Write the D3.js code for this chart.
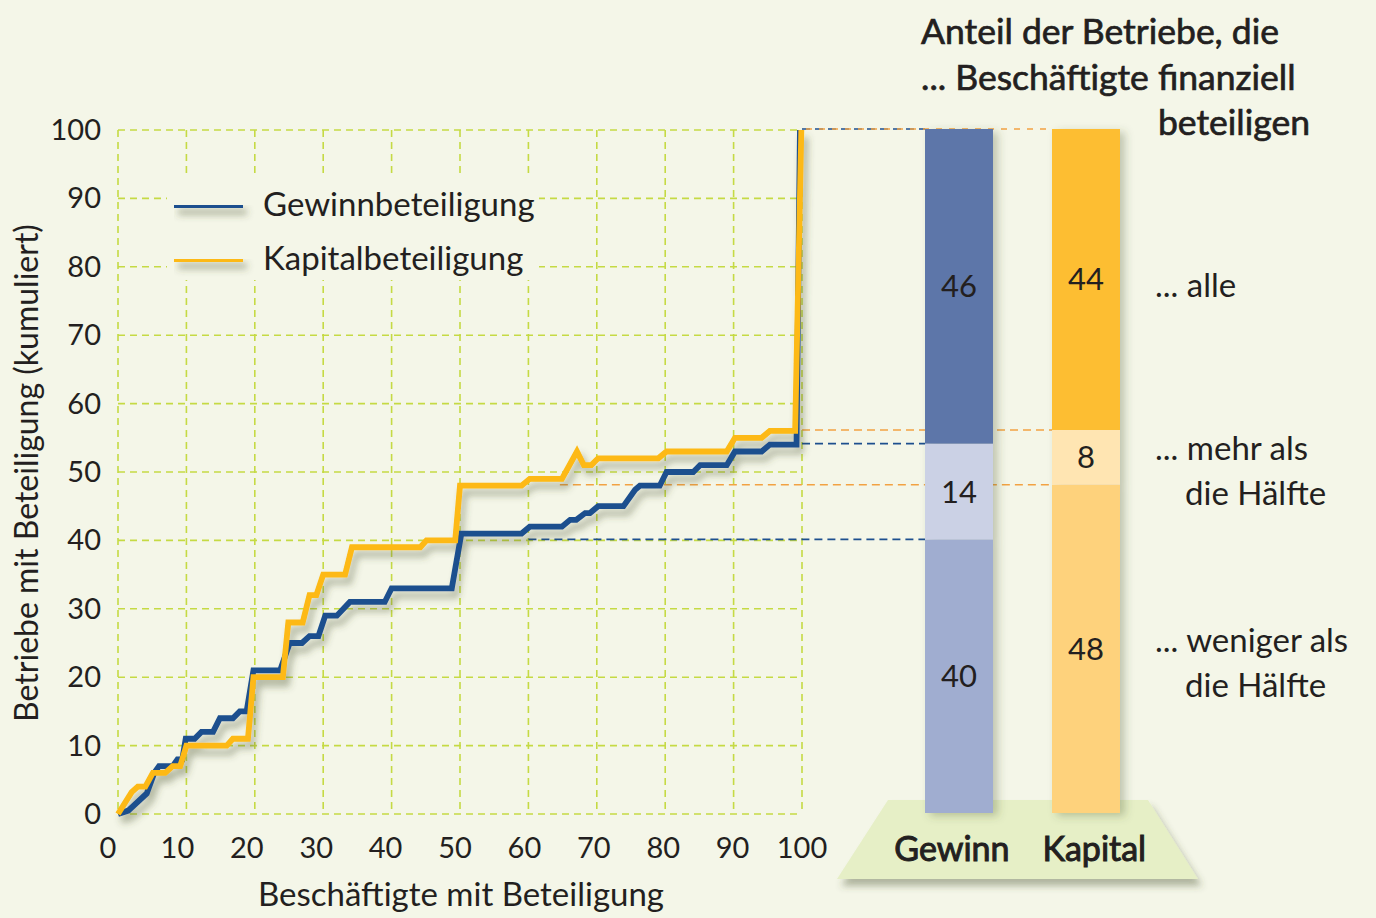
<!DOCTYPE html>
<html>
<head>
<meta charset="utf-8">
<script src="https://cdn.jsdelivr.net/npm/d3@7"></script>
<style>
  body { margin: 0; background: #f4f6e8; }
  svg { display: block; font-family: Lato, "Open Sans", sans-serif; }
</style>
</head>
<body>
<script>
// Werte
var gewinnX = [0, 1.5, 4.2, 5.3, 6, 8, 8.7, 9.4, 9.9, 11.2, 12.2, 13.9, 14.9, 16.8, 17.8, 18.8, 19.8, 23.7, 25.1, 26.9, 28, 29.3, 30.3, 32, 33.9, 39, 40, 48.8, 50.2, 59, 60.2, 64.9, 66.1, 67, 68.3, 69, 70.2, 73.9, 75.6, 76.3, 79.2, 80.2, 84.1, 85.1, 89, 90.2, 94.1, 95.3, 99.2, 99.7];
var gewinnY = [0, 0.5, 3, 6, 7, 7, 8, 8, 11, 11, 12, 12, 14, 14, 15, 15, 21, 21, 25, 25, 26, 26, 29, 29, 31, 31, 33, 33, 41, 41, 42, 42, 43, 43, 44, 44, 45, 45, 47.4, 48, 48, 50, 50, 51, 51, 53, 53, 54, 54, 100];

var kapitalX = [0, 2, 2.9, 4, 5.1, 6.9, 8, 9.1, 10, 15.9, 16.8, 19, 19.8, 24.1, 24.9, 27, 28, 29, 30, 33.2, 34.2, 44.2, 45.1, 49.3, 50, 59, 60.2, 64.9, 67.1, 68.1, 69.2, 70.2, 79, 80.2, 89, 90.2, 94.1, 95.3, 99, 99.9];
var kapitalY = [0, 3.2, 4, 4, 6, 6, 7, 7, 10, 10, 11, 11, 20, 20, 28, 28, 32, 32, 35, 35, 39, 39, 40, 40, 48, 48, 49, 49, 53, 51, 51, 52, 52, 53, 53, 55, 55, 56, 56, 100];

var xTicks = [0, 10, 20, 30, 40, 50, 60, 70, 80, 90, 100];
var yTicks = [0, 10, 20, 30, 40, 50, 60, 70, 80, 90, 100];

var barCats = ["Gewinn", "Kapital"];
var barWeniger = [40, 48];   // ... weniger als die Hälfte
var barMehr = [14, 8];       // ... mehr als die Hälfte
var barAlle = [46, 44];      // ... alle
var connStart = [[60, 100], [64.6, 100]]; // wo die Hilfslinien an der Kurve beginnen

var seriesNames = ["Gewinnbeteiligung", "Kapitalbeteiligung"];

// Größen
var width = 1376, height = 918;
var bg = "#f4f6e8";
var ink = "#231f20";
var blue = "#1d4f8e", yellow = "#fdb913";
var barColors = [["#a0add0", "#cbd1e5", "#5d76a9"], ["#fed27c", "#ffe5b2", "#fdbe30"]];
var connColors = ["#1d4f8e", "#f2a243"];

var x = d3.scaleLinear().domain([0, 100]).range([118, 802]);
var y = d3.scaleLinear().domain([0, 100]).range([814, 130]);
var xLab = d3.scaleLinear().domain([0, 100]).range([108, 802]);
var yBar = d3.scaleLinear().domain([0, 100]).range([813, 129]);
var xBar = d3.scaleBand().domain(barCats).range([925, 1120]).paddingInner(0.4646);

var svg = d3.select("body").append("svg")
    .attr("width", width)
    .attr("height", height);

var defs = svg.append("defs");
defs.append("filter").attr("id", "shadow")
    .attr("filterUnits", "userSpaceOnUse")
    .attr("x", 0).attr("y", 0).attr("width", width).attr("height", height)
  .append("feDropShadow")
    .attr("dx", 4).attr("dy", 7).attr("stdDeviation", 3.5)
    .attr("flood-color", "#4c5530").attr("flood-opacity", 0.4);
defs.append("filter").attr("id", "barshadow")
    .attr("filterUnits", "userSpaceOnUse")
    .attr("x", 0).attr("y", 0).attr("width", width).attr("height", height)
  .append("feDropShadow")
    .attr("dx", 5).attr("dy", 3).attr("stdDeviation", 4)
    .attr("flood-color", "#4c5530").attr("flood-opacity", 0.3);

svg.append("rect").attr("width", width).attr("height", height).attr("fill", bg);

// Gitter
var grid = svg.append("g")
    .attr("stroke", "#c5da44")
    .attr("stroke-width", 1.6)
    .attr("stroke-dasharray", "7,5");
grid.selectAll(".gx").data(xTicks).enter().append("line")
    .attr("x1", function(d) { return x(d); }).attr("x2", function(d) { return x(d); })
    .attr("y1", y(100)).attr("y2", y(0));
grid.selectAll(".gy").data(yTicks).enter().append("line")
    .attr("x1", x(0)).attr("x2", x(100))
    .attr("y1", function(d) { return y(d); }).attr("y2", function(d) { return y(d); });

// Achsenbeschriftung
svg.selectAll(".xl").data(xTicks).enter().append("text")
    .attr("x", function(d) { return xLab(d); })
    .attr("y", 858)
    .attr("text-anchor", "middle")
    .attr("font-size", 29)
    .attr("fill", ink)
    .text(function(d) { return d; });
svg.selectAll(".yl").data(yTicks).enter().append("text")
    .attr("x", 101)
    .attr("y", function(d) { return y(d) + 10; })
    .attr("text-anchor", "end")
    .attr("font-size", 29)
    .attr("fill", ink)
    .text(function(d) { return d; });

svg.append("text")
    .attr("x", 461).attr("y", 906)
    .attr("text-anchor", "middle")
    .attr("font-size", 33)
    .attr("fill", ink)
    .text("Beschäftigte mit Beteiligung");
svg.append("text")
    .attr("transform", "translate(38,473) rotate(-90)")
    .attr("text-anchor", "middle")
    .attr("font-size", 32)
    .attr("fill", ink)
    .text("Betriebe mit Beteiligung (kumuliert)");

// Legende (deckt das Gitter ab)
svg.append("rect")
    .attr("x", 167).attr("y", 178).attr("width", 372).attr("height", 102)
    .attr("fill", bg);
var leg = svg.selectAll(".leg").data(seriesNames).enter().append("g")
    .attr("transform", function(d, i) { return "translate(174," + (205 + i * 54) + ")"; });
leg.append("rect")
    .attr("x", 0).attr("y", -3).attr("width", 69).attr("height", 6)
    .attr("fill", function(d, i) { return i ? yellow : blue; })
    .attr("filter", "url(#shadow)");
leg.append("text")
    .attr("x", 89).attr("y", 11)
    .attr("font-size", 33)
    .attr("fill", ink)
    .text(function(d) { return d; });

// Hilfslinien zu den Säulen
var conn = svg.append("g").attr("stroke-width", 1.6).attr("fill", "none");
barCats.forEach(function(c, i) {
    var endX = xBar(c);
    var levels = [barWeniger[i], barWeniger[i] + barMehr[i]];
    levels.forEach(function(v, k) {
        conn.append("line")
            .attr("x1", x(connStart[i][k])).attr("x2", endX)
            .attr("y1", yBar(v)).attr("y2", yBar(v))
            .attr("stroke", connColors[i])
            .attr("stroke-dasharray", "8,5");
    });
});
// oberste Linie (100)
conn.append("line")
    .attr("x1", x(100)).attr("x2", xBar("Gewinn"))
    .attr("y1", yBar(100)).attr("y2", yBar(100))
    .attr("stroke", connColors[0]).attr("stroke-dasharray", "8,5");
conn.append("line")
    .attr("x1", x(100)).attr("x2", xBar("Kapital"))
    .attr("y1", yBar(100)).attr("y2", yBar(100))
    .attr("stroke", connColors[1]).attr("stroke-dasharray", "6,7")
    .attr("stroke-dashoffset", -4);

// Kurven
var line = d3.line()
    .x(function(d) { return x(d[0]); })
    .y(function(d) { return y(d[1]); });
var gewinnPts = d3.zip(gewinnX, gewinnY);
var kapitalPts = d3.zip(kapitalX, kapitalY);
var curves = svg.append("g").attr("filter", "url(#shadow)");
curves.append("path").datum(gewinnPts)
    .attr("d", line)
    .attr("fill", "none").attr("stroke", blue)
    .attr("stroke-width", 5.8).attr("stroke-linejoin", "miter");
curves.append("path").datum(kapitalPts)
    .attr("d", line)
    .attr("fill", "none").attr("stroke", yellow)
    .attr("stroke-width", 5.8).attr("stroke-linejoin", "miter");

// Sockel
svg.append("polygon")
    .attr("points", "888,800 1148,800 1198,879 837,879")
    .attr("fill", "#e6efc6")
    .attr("filter", "url(#shadow)");

// Säulen
var stacks = barCats.map(function(c, i) {
    var parts = [barWeniger[i], barMehr[i], barAlle[i]];
    var acc = 0;
    return parts.map(function(v, k) {
        var seg = { cat: c, i: i, k: k, v: v, y0: acc, y1: acc + v };
        acc += v;
        return seg;
    });
});
var bars = svg.selectAll(".bar").data(stacks).enter().append("g")
    .attr("filter", "url(#barshadow)");
bars.selectAll("rect").data(function(d) { return d; }).enter().append("rect")
    .attr("x", function(d) { return xBar(d.cat); })
    .attr("width", xBar.bandwidth())
    .attr("y", function(d) { return yBar(d.y1); })
    .attr("height", function(d) { return yBar(d.y0) - yBar(d.y1); })
    .attr("fill", function(d) { return barColors[d.i][d.k]; });
svg.selectAll(".bl").data(d3.merge(stacks)).enter().append("text")
    .attr("x", function(d) { return xBar(d.cat) + xBar.bandwidth() / 2; })
    .attr("y", function(d) { return yBar((d.y0 + d.y1) / 2) + 11; })
    .attr("text-anchor", "middle")
    .attr("font-size", 31)
    .attr("fill", ink)
    .text(function(d) { return d.v; });

// Sockelbeschriftung
var gapMid = (xBar("Gewinn") + xBar.bandwidth() + xBar("Kapital")) / 2;
var base = svg.append("g")
    .attr("font-size", 34)
    .attr("fill", ink).attr("stroke", ink).attr("stroke-width", 1);
base.append("text")
    .attr("x", gapMid - 13).attr("y", 861)
    .attr("text-anchor", "end")
    .text(barCats[0]);
base.append("text")
    .attr("x", gapMid + 20).attr("y", 861)
    .attr("text-anchor", "start")
    .text(barCats[1]);

// Beschriftung rechts
var rightLabels = [
    { t: "... alle", x: 1155, y: 297 },
    { t: "... mehr als", x: 1155, y: 460 },
    { t: "die Hälfte", x: 1185, y: 505 },
    { t: "... weniger als", x: 1155, y: 652 },
    { t: "die Hälfte", x: 1185, y: 697 }
];
svg.selectAll(".rl").data(rightLabels).enter().append("text")
    .attr("x", function(d) { return d.x; })
    .attr("y", function(d) { return d.y; })
    .attr("font-size", 33)
    .attr("fill", ink)
    .text(function(d) { return d.t; });

// Titel
var title = svg.append("g")
    .attr("font-size", 35.5)
    .attr("fill", ink).attr("stroke", ink).attr("stroke-width", 0.7);
title.append("text").attr("x", 921).attr("y", 44).text("Anteil der Betriebe, die");
title.append("text").attr("x", 921).attr("y", 90).text("... Beschäftigte finanziell");
title.append("text").attr("x", 1310).attr("y", 135).attr("text-anchor", "end").text("beteiligen");
</script>
</body>
</html>
